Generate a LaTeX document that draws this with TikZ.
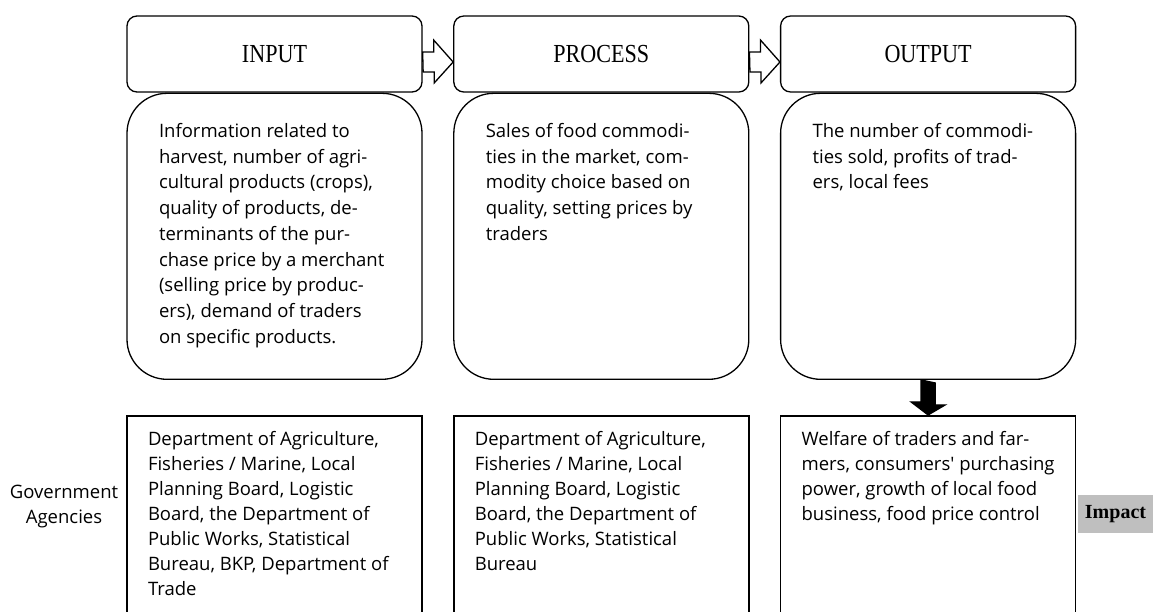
\documentclass[tikz,border=0pt]{standalone}
\usepackage{fontspec}
\setmainfont{Liberation Serif}
\newfontfamily\bodyfont{Open Sans}
\newfontfamily\headfont[FakeStretch=0.85]{Liberation Serif}
\usetikzlibrary{positioning}
\tikzset{head box/.style={draw, line width=1.3pt, rounded corners=10pt, fill=white, minimum width=295pt, minimum height=76pt, font=\headfont\fontsize{26}{30}\selectfont}}
\tikzset{body box/.style={draw, line width=1.3pt, rounded corners=40pt, inner xsep=21pt, inner ysep=26pt, font=\bodyfont\fontsize{18.5}{25.75}\selectfont}}
\tikzset{agency box/.style={draw, line width=1.7pt, inner xsep=21pt, inner ysep=12.5pt, font=\bodyfont\fontsize{18.5}{25}\selectfont}}
\tikzset{flow arrow/.style={draw, line width=1.3pt, line join=miter}}
\newcommand{\boxtext}[4]{\parbox[c][#3][t]{#2}{\raggedright\leftskip=#1\strut #4}}

\begin{document}
\begin{tikzpicture}[x=1pt,y=1pt]
\path[use as bounding box] (0,0) rectangle (1153,-611);
\clip (0,0) rectangle (1153,-611);
% heads
\node[head box] (inhead) at (274.5,-54) {INPUT};
\node[head box, right=30.5pt of inhead] (prochead) {PROCESS};
\node[head box, right=30.5pt of prochead] (outhead) {OUTPUT};
% bodies
\node[body box, below=0pt of inhead] (inbody) {\boxtext{11pt}{253pt}{234pt}{Information related to\\
harvest, number of agri-\\
cultural products (crops),\\
quality of products, de-\\
terminants of the pur-\\
chase price by a merchant\\
(selling price by produc-\\
ers), demand of traders\\
on specific products.}};
\node[body box, below=0pt of prochead] (procbody) {\boxtext{11pt}{253pt}{234pt}{Sales of food commodi-\\
ties in the market, com-\\
modity choice based on\\
quality, setting prices by\\
traders}};
\node[body box, below=0pt of outhead] (outbody) {\boxtext{11pt}{253pt}{234pt}{The number of commodi-\\
ties sold, profits of trad-\\
ers, local fees}};
% agencies
\node[agency box, below=35pt of inbody] (inimp) {\boxtext{0pt}{253pt}{200pt}{Department of Agriculture,\\
Fisheries / Marine, Local\\
Planning Board, Logistic\\
Board, the Department of\\
Public Works, Statistical\\
Bureau, BKP, Department of\\
Trade}};
\node[agency box, below=35pt of procbody] (procimp) {\boxtext{0pt}{253pt}{200pt}{Department of Agriculture,\\
Fisheries / Marine, Local\\
Planning Board, Logistic\\
Board, the Department of\\
Public Works, Statistical\\
Bureau}};
\node[agency box, below=35pt of outbody] (outimp) {\boxtext{0pt}{253pt}{200pt}{Welfare of traders and far-\\
mers, consumers' purchasing\\
power, growth of local food\\
business, food price control}};
% side labels
\node[align=center, font=\bodyfont\fontsize{18.5}{25}\selectfont] (gov) at (64,-507) {Government\\Agencies};
\node[fill=black!25, minimum width=75pt, minimum height=38pt, font=\bfseries\fontsize{20}{22}\selectfont] (impact) at (1115.5,-514) {Impact};
% arrows
\draw[flow arrow, fill=white] ([yshift=-8pt]inhead.east) ++(0,10) -- ++(11,0) -- ++(0,12) -- ([yshift=-8pt]prochead.west) -- ++(-19,-21) -- ++(0,11) -- ++(-11,0) -- cycle;
\draw[flow arrow, fill=white] ([yshift=-8pt]prochead.east) ++(0,10) -- ++(11,0) -- ++(0,12) -- ([yshift=-8pt]outhead.west) -- ++(-19,-21) -- ++(0,11) -- ++(-11,0) -- cycle;
\draw[flow arrow, fill=black] (outbody.south) ++(-7,0) -- ++(0,-22) -- ++(-10,0) -- (outimp.north) -- ++(17,10) -- ++(-10,0) -- ++(0,22) -- cycle;
\end{tikzpicture}
\end{document}
